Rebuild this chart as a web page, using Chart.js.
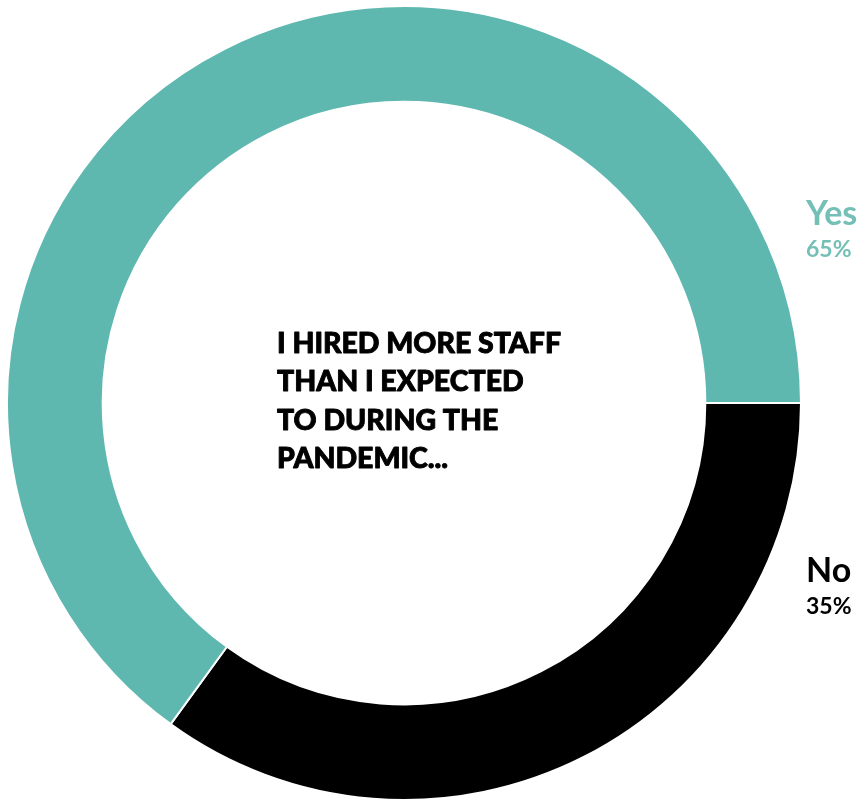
<!DOCTYPE html>
<html>
<head>
<meta charset="utf-8">
<script src="https://cdn.jsdelivr.net/npm/chart.js@4"></script>
<style>
html,body{margin:0;padding:0;background:#fff;}
#wrap{width:859px;height:801px;position:relative;}
</style>
</head>
<body>
<div id="wrap"><canvas id="c"></canvas></div>
<script>
const categories = ["No", "Yes"];
const values = [35, 65];
const colors = ["#000000", "#5fb8b0"];
const labelColors = ["#000000", "#74bfb6"];
const centerLines = ["I HIRED MORE STAFF", "THAN I EXPECTED", "TO DURING THE", "PANDEMIC..."];

const FONT = "Lato, 'Noto Sans', sans-serif";

const centerText = {
  id: 'centerText',
  afterDraw(chart) {
    const ctx = chart.ctx;
    ctx.save();
    ctx.fillStyle = '#000';
    ctx.strokeStyle = '#000';
    ctx.lineWidth = 0.9;
    ctx.lineJoin = 'round';
    ctx.textBaseline = 'alphabetic';
    ctx.textAlign = 'left';
    ctx.font = "900 28px " + FONT;
    const target = 284;
    const w = ctx.measureText(centerLines[0]).width;
    const sx = target / w;
    const y0 = 353, lh = 38.3;
    centerLines.forEach((l, i) => {
      ctx.save();
      ctx.translate(277, y0 + i * lh);
      ctx.scale(sx, 1);
      ctx.fillText(l, 0, 0);
      ctx.strokeText(l, 0, 0);
      ctx.restore();
    });
    ctx.restore();
  }
};

const sideLabels = {
  id: 'sideLabels',
  afterDraw(chart) {
    const ctx = chart.ctx;
    const x = chart.chartArea.right + 4;
    const pos = { "Yes": [225, 257], "No": [582, 614] };
    ctx.save();
    ctx.textAlign = 'left';
    ctx.textBaseline = 'alphabetic';
    categories.forEach((c, i) => {
      const p = pos[c];
      ctx.fillStyle = labelColors[i];
      ctx.font = "bold 34px " + FONT;
      ctx.fillText(c, x, p[0]);
      ctx.font = "bold 23px " + FONT;
      ctx.fillText(values[i] + "%", x, p[1]);
    });
    ctx.restore();
  }
};

new Chart(document.getElementById('c'), {
  type: 'doughnut',
  data: {
    labels: categories,
    datasets: [{
      data: values,
      backgroundColor: colors,
      borderColor: '#ffffff',
      borderWidth: 2,
      hoverOffset: 0
    }]
  },
  options: {
    responsive: true,
    maintainAspectRatio: false,
    animation: false,
    rotation: 90,
    cutout: '75.9%',
    layout: { padding: { left: 6, right: 57, top: 5, bottom: 0 } },
    plugins: {
      legend: { display: false },
      tooltip: { enabled: false }
    }
  },
  plugins: [centerText, sideLabels]
});
</script>
</body>
</html>
